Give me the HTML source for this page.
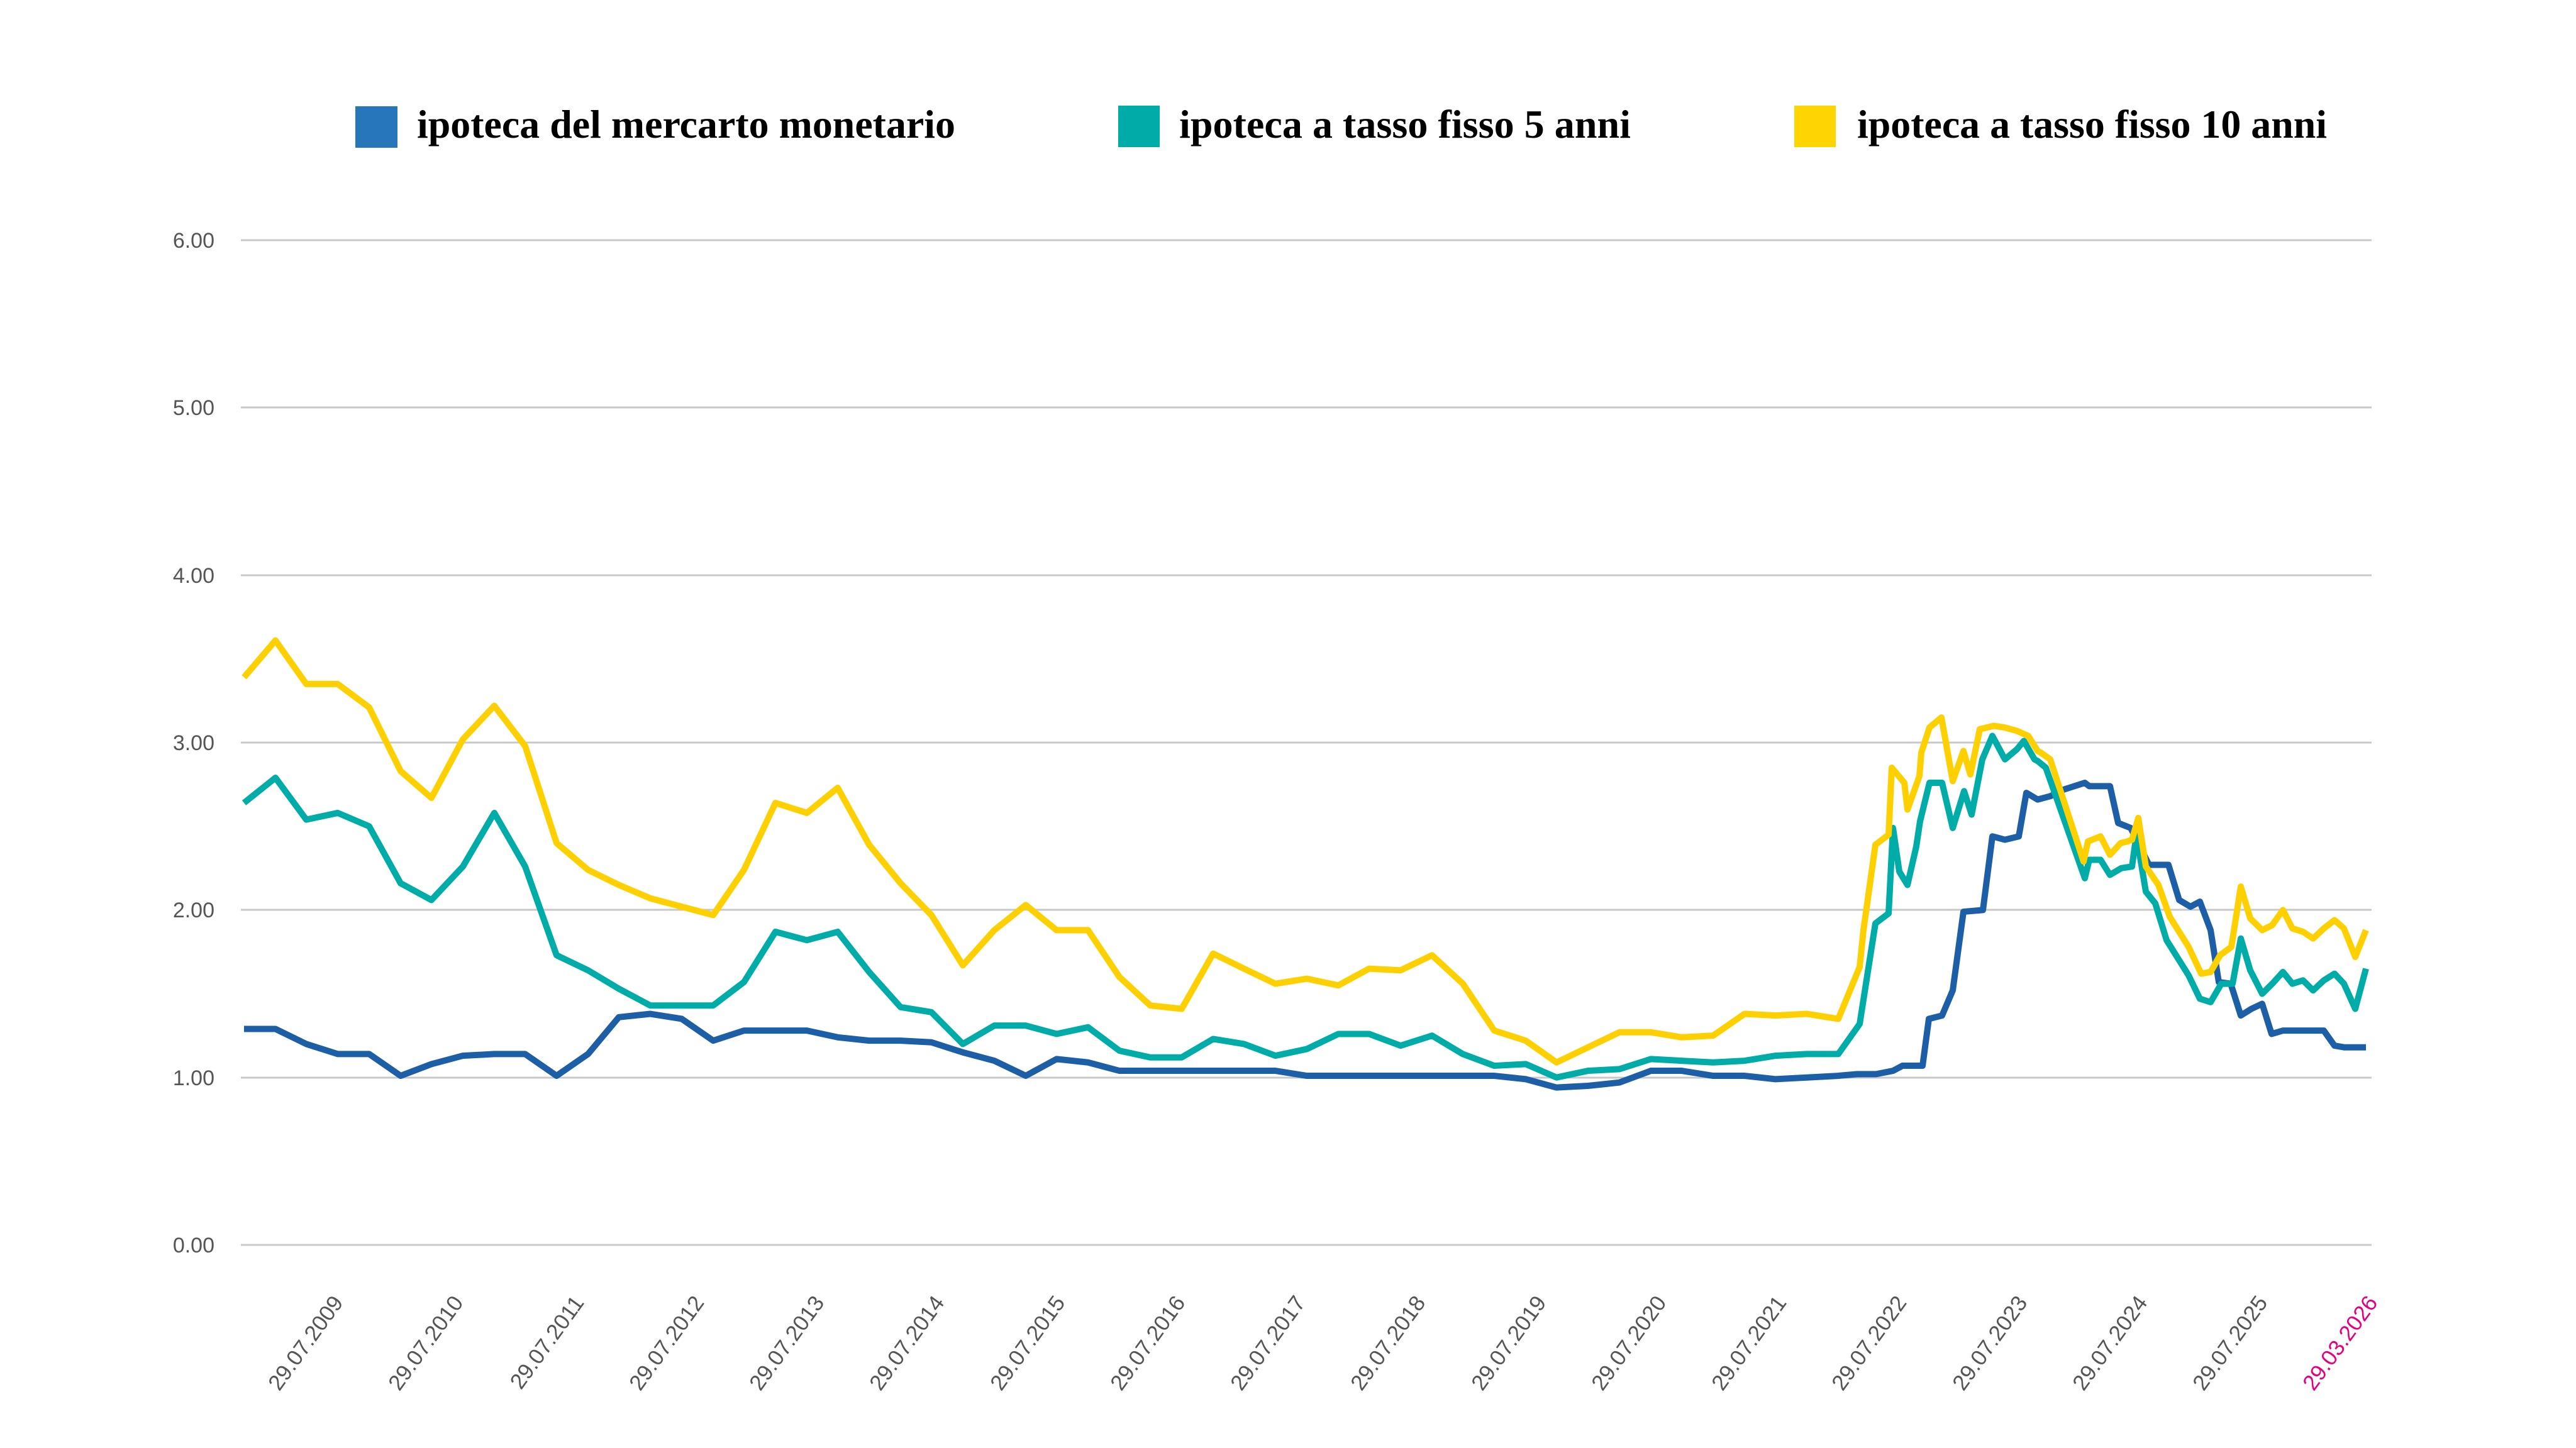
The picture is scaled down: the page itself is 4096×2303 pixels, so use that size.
<!DOCTYPE html>
<html><head><meta charset="utf-8"><style>html,body{margin:0;padding:0;background:#fff}svg{display:block}</style></head>
<body>
<svg xmlns="http://www.w3.org/2000/svg" width="4096" height="2303" viewBox="0 0 4096 2303">
<rect width="4096" height="2303" fill="#fff"/>
<!-- legend -->
<rect x="565" y="169" width="67" height="66" fill="#2775bb"/>
<text x="663" y="219" font-family="Liberation Serif, serif" font-weight="bold" font-size="64" textLength="856" lengthAdjust="spacingAndGlyphs" fill="#000">ipoteca del mercarto monetario</text>
<rect x="1778" y="168" width="66" height="66" fill="#00aca7"/>
<text x="1875" y="219" font-family="Liberation Serif, serif" font-weight="bold" font-size="64" textLength="718" lengthAdjust="spacingAndGlyphs" fill="#000">ipoteca a tasso fisso 5 anni</text>
<rect x="2853" y="168" width="66" height="66" fill="#ffd500"/>
<text x="2953" y="219" font-family="Liberation Serif, serif" font-weight="bold" font-size="64" textLength="747" lengthAdjust="spacingAndGlyphs" fill="#000">ipoteca a tasso fisso 10 anni</text>
<!-- grid -->
<g stroke="#c8c8c8" stroke-width="3">
<line x1="383" x2="3771" y1="382" y2="382"/>
<line x1="383" x2="3771" y1="648" y2="648"/>
<line x1="383" x2="3771" y1="915" y2="915"/>
<line x1="383" x2="3771" y1="1181" y2="1181"/>
<line x1="383" x2="3771" y1="1447" y2="1447"/>
<line x1="383" x2="3771" y1="1714" y2="1714"/>
<line x1="383" x2="3771" y1="1980" y2="1980"/>
</g>
<g font-family="Liberation Sans, sans-serif" font-size="34" fill="#555" text-anchor="end">
<text x="341" y="394">6.00</text>
<text x="341" y="660">5.00</text>
<text x="341" y="927">4.00</text>
<text x="341" y="1193">3.00</text>
<text x="341" y="1459">2.00</text>
<text x="341" y="1726">1.00</text>
<text x="341" y="1992">0.00</text>
</g>
<!-- x labels -->
<g font-family="Liberation Sans, sans-serif" font-size="35" fill="#555" text-anchor="end">
<text transform="translate(547,2072) rotate(-54)">29.07.2009</text>
<text transform="translate(738,2072) rotate(-54)">29.07.2010</text>
<text transform="translate(930,2072) rotate(-54)">29.07.2011</text>
<text transform="translate(1121,2072) rotate(-54)">29.07.2012</text>
<text transform="translate(1312,2072) rotate(-54)">29.07.2013</text>
<text transform="translate(1503,2072) rotate(-54)">29.07.2014</text>
<text transform="translate(1695,2072) rotate(-54)">29.07.2015</text>
<text transform="translate(1886,2072) rotate(-54)">29.07.2016</text>
<text transform="translate(2077,2072) rotate(-54)">29.07.2017</text>
<text transform="translate(2268,2072) rotate(-54)">29.07.2018</text>
<text transform="translate(2460,2072) rotate(-54)">29.07.2019</text>
<text transform="translate(2651,2072) rotate(-54)">29.07.2020</text>
<text transform="translate(2842,2072) rotate(-54)">29.07.2021</text>
<text transform="translate(3033,2072) rotate(-54)">29.07.2022</text>
<text transform="translate(3225,2072) rotate(-54)">29.07.2023</text>
<text transform="translate(3416,2072) rotate(-54)">29.07.2024</text>
<text transform="translate(3607,2072) rotate(-54)">29.07.2025</text>
<text transform="translate(3782,2072) rotate(-54)" fill="#e6007e">29.03.2026</text>
</g>
<!-- series (value space) -->
<g transform="translate(0,1980) scale(1,-266.3)" fill="none" stroke-width="10" stroke-linejoin="round" stroke-linecap="butt">
<polyline vector-effect="non-scaling-stroke" stroke="#1d5fa6" points="388,1.29 438,1.29 487,1.20 537,1.14 587,1.14 637,1.01 686,1.08 736,1.13 786,1.14 835,1.14 885,1.01 935,1.14 984,1.36 1034,1.38 1084,1.35 1134,1.22 1183,1.28 1233,1.28 1283,1.28 1332,1.24 1382,1.22 1432,1.22 1481,1.21 1531,1.15 1581,1.10 1631,1.01 1680,1.11 1730,1.09 1780,1.04 1829,1.04 1879,1.04 1929,1.04 1978,1.04 2028,1.04 2078,1.01 2128,1.01 2177,1.01 2227,1.01 2277,1.01 2326,1.01 2376,1.01 2426,0.99 2475,0.94 2525,0.95 2575,0.97 2625,1.04 2674,1.04 2724,1.01 2774,1.01 2823,0.99 2873,1.00 2923,1.01 2953,1.02 2983,1.02 3010,1.04 3025,1.07 3057,1.07 3067,1.35 3088,1.37 3105,1.52 3122,1.99 3153,2.00 3168,2.44 3188,2.42 3210,2.44 3222,2.70 3240,2.66 3260,2.68 3282,2.72 3315,2.76 3322,2.74 3355,2.74 3368,2.52 3388,2.49 3417,2.27 3448,2.27 3465,2.06 3483,2.02 3498,2.05 3515,1.88 3528,1.57 3547,1.56 3563,1.37 3580,1.41 3597,1.44 3612,1.26 3630,1.28 3695,1.28 3712,1.19 3728,1.18 3762,1.18"/>
<polyline vector-effect="non-scaling-stroke" stroke="#00aca7" points="388,2.64 438,2.79 487,2.54 537,2.58 587,2.50 637,2.16 686,2.06 736,2.26 786,2.58 835,2.26 885,1.73 935,1.64 984,1.53 1034,1.43 1084,1.43 1134,1.43 1183,1.57 1233,1.87 1283,1.82 1332,1.87 1382,1.63 1432,1.42 1481,1.39 1531,1.20 1581,1.31 1631,1.31 1680,1.26 1730,1.30 1780,1.16 1829,1.12 1879,1.12 1929,1.23 1978,1.20 2028,1.13 2078,1.17 2128,1.26 2177,1.26 2227,1.19 2277,1.25 2326,1.14 2376,1.07 2426,1.08 2475,1.00 2525,1.04 2575,1.05 2625,1.11 2674,1.10 2724,1.09 2774,1.10 2823,1.13 2873,1.14 2923,1.14 2957,1.32 2982,1.92 3003,1.98 3010,2.49 3020,2.23 3033,2.15 3047,2.38 3053,2.53 3068,2.76 3088,2.76 3105,2.49 3123,2.71 3135,2.57 3152,2.90 3168,3.04 3188,2.90 3207,2.96 3218,3.01 3235,2.90 3240,2.89 3253,2.85 3315,2.19 3322,2.30 3340,2.30 3355,2.21 3373,2.25 3390,2.26 3397,2.45 3412,2.11 3427,2.04 3445,1.82 3480,1.61 3498,1.47 3515,1.45 3532,1.56 3550,1.56 3563,1.83 3578,1.64 3597,1.50 3613,1.56 3630,1.63 3645,1.56 3662,1.58 3678,1.52 3695,1.58 3712,1.62 3727,1.56 3745,1.41 3762,1.65"/>
<polyline vector-effect="non-scaling-stroke" stroke="#ffd000" points="388,3.39 438,3.61 487,3.35 537,3.35 587,3.21 637,2.83 686,2.67 736,3.02 786,3.22 835,2.98 885,2.40 935,2.24 984,2.15 1034,2.07 1084,2.02 1134,1.97 1183,2.24 1233,2.64 1283,2.58 1332,2.73 1382,2.39 1432,2.16 1481,1.97 1531,1.67 1581,1.88 1631,2.03 1680,1.88 1730,1.88 1780,1.60 1829,1.43 1879,1.41 1929,1.74 1978,1.65 2028,1.56 2078,1.59 2128,1.55 2177,1.65 2227,1.64 2277,1.73 2326,1.56 2376,1.28 2426,1.22 2475,1.09 2525,1.18 2575,1.27 2625,1.27 2674,1.24 2724,1.25 2774,1.38 2823,1.37 2873,1.38 2923,1.35 2957,1.66 2963,1.88 2982,2.39 3003,2.45 3008,2.85 3028,2.76 3033,2.60 3052,2.80 3055,2.94 3068,3.09 3087,3.15 3105,2.77 3122,2.95 3133,2.81 3148,3.08 3170,3.10 3188,3.09 3207,3.07 3225,3.04 3240,2.95 3245,2.94 3260,2.90 3313,2.29 3320,2.41 3340,2.44 3355,2.33 3372,2.40 3383,2.41 3390,2.42 3400,2.55 3412,2.26 3432,2.15 3450,1.96 3480,1.78 3500,1.62 3515,1.63 3530,1.73 3548,1.78 3563,2.14 3578,1.95 3597,1.88 3613,1.91 3630,2.00 3645,1.89 3662,1.87 3678,1.83 3695,1.89 3712,1.94 3727,1.89 3745,1.72 3762,1.88"/>
</g>
</svg>
</body></html>
